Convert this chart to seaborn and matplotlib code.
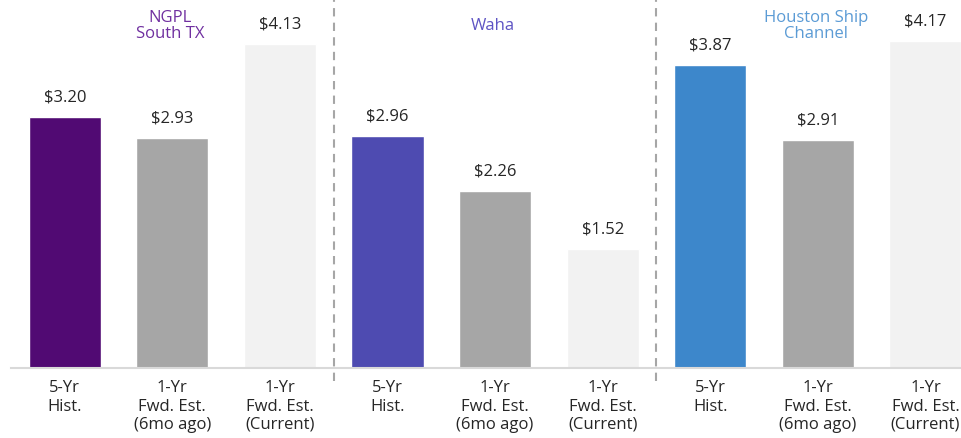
import matplotlib.pyplot as plt
import pandas as pd
import seaborn as sns

# Data
hubs = ['NGPL\nSouth TX', 'Waha', 'Houston Ship\nChannel']
periods = ['5-Yr\nHist.', '1-Yr\nFwd. Est.\n(6mo ago)', '1-Yr\nFwd. Est.\n(Current)']
prices_ngpl = [3.20, 2.93, 4.13]
prices_waha = [2.96, 2.26, 1.52]
prices_hsc = [3.87, 2.91, 4.17]

hub_colors = ['#7030A0', '#5E54C4', '#5B9BD5']
bar_colors = ['#510A73', '#A6A6A6', '#F2F2F2',
              '#4E4BB1', '#A6A6A6', '#F2F2F2',
              '#3D87CB', '#A6A6A6', '#F2F2F2']

rows = []
for hub, vals in zip(hubs, [prices_ngpl, prices_waha, prices_hsc]):
    for period, v in zip(periods, vals):
        rows.append({'hub': hub, 'period': period, 'price': v})
df = pd.DataFrame(rows)
df['slot'] = [f'b{i}' for i in range(len(df))]

sns.set_style('white')
plt.rcParams['font.family'] = ['Open Sans', 'DejaVu Sans']

fig = plt.figure(figsize=(9.62, 4.39), dpi=100)
ax = fig.add_axes([11 / 962, 70 / 439, 951 / 962, 369 / 439])

sns.barplot(data=df, x='slot', y='price', hue='slot', palette=bar_colors,
            width=0.67, legend=False, ax=ax, saturation=1)

ax.set_xlim(-0.5, 8.34)
ax.set_ylim(0, 4.71)

for i, v in enumerate(df['price']):
    ax.annotate(f'${v:.2f}', (i, v), xytext=(0, 9), textcoords='offset points',
                ha='center', va='bottom', fontsize=12, color='#262626')

ax.set_xticks(range(len(df)))
ax.set_xticklabels(df['period'], fontsize=12, color='#262626', linespacing=1.2)
ax.tick_params(axis='x', length=0, pad=8)
ax.set_yticks([])
ax.set_xlabel('')
ax.set_ylabel('')

for s in ['top', 'right', 'left']:
    ax.spines[s].set_visible(False)
ax.spines['bottom'].set_color('#D9D9D9')
ax.spines['bottom'].set_linewidth(1.5)

# dashed separators between hubs
for xs in [2.5, 5.5]:
    ax.axvline(xs, ymin=-0.035, ymax=1.0, color='#A6A6A6', linestyle=(0, (4, 3)),
               linewidth=1.5, clip_on=False)

# hub names
for k, (hub, c) in enumerate(zip(hubs, hub_colors)):
    ax.text(3 * k + 0.98, 4.38, hub, ha='center', va='center', fontsize=12,
            color=c, linespacing=1.05)

fig.savefig('out.png', dpi=100)
